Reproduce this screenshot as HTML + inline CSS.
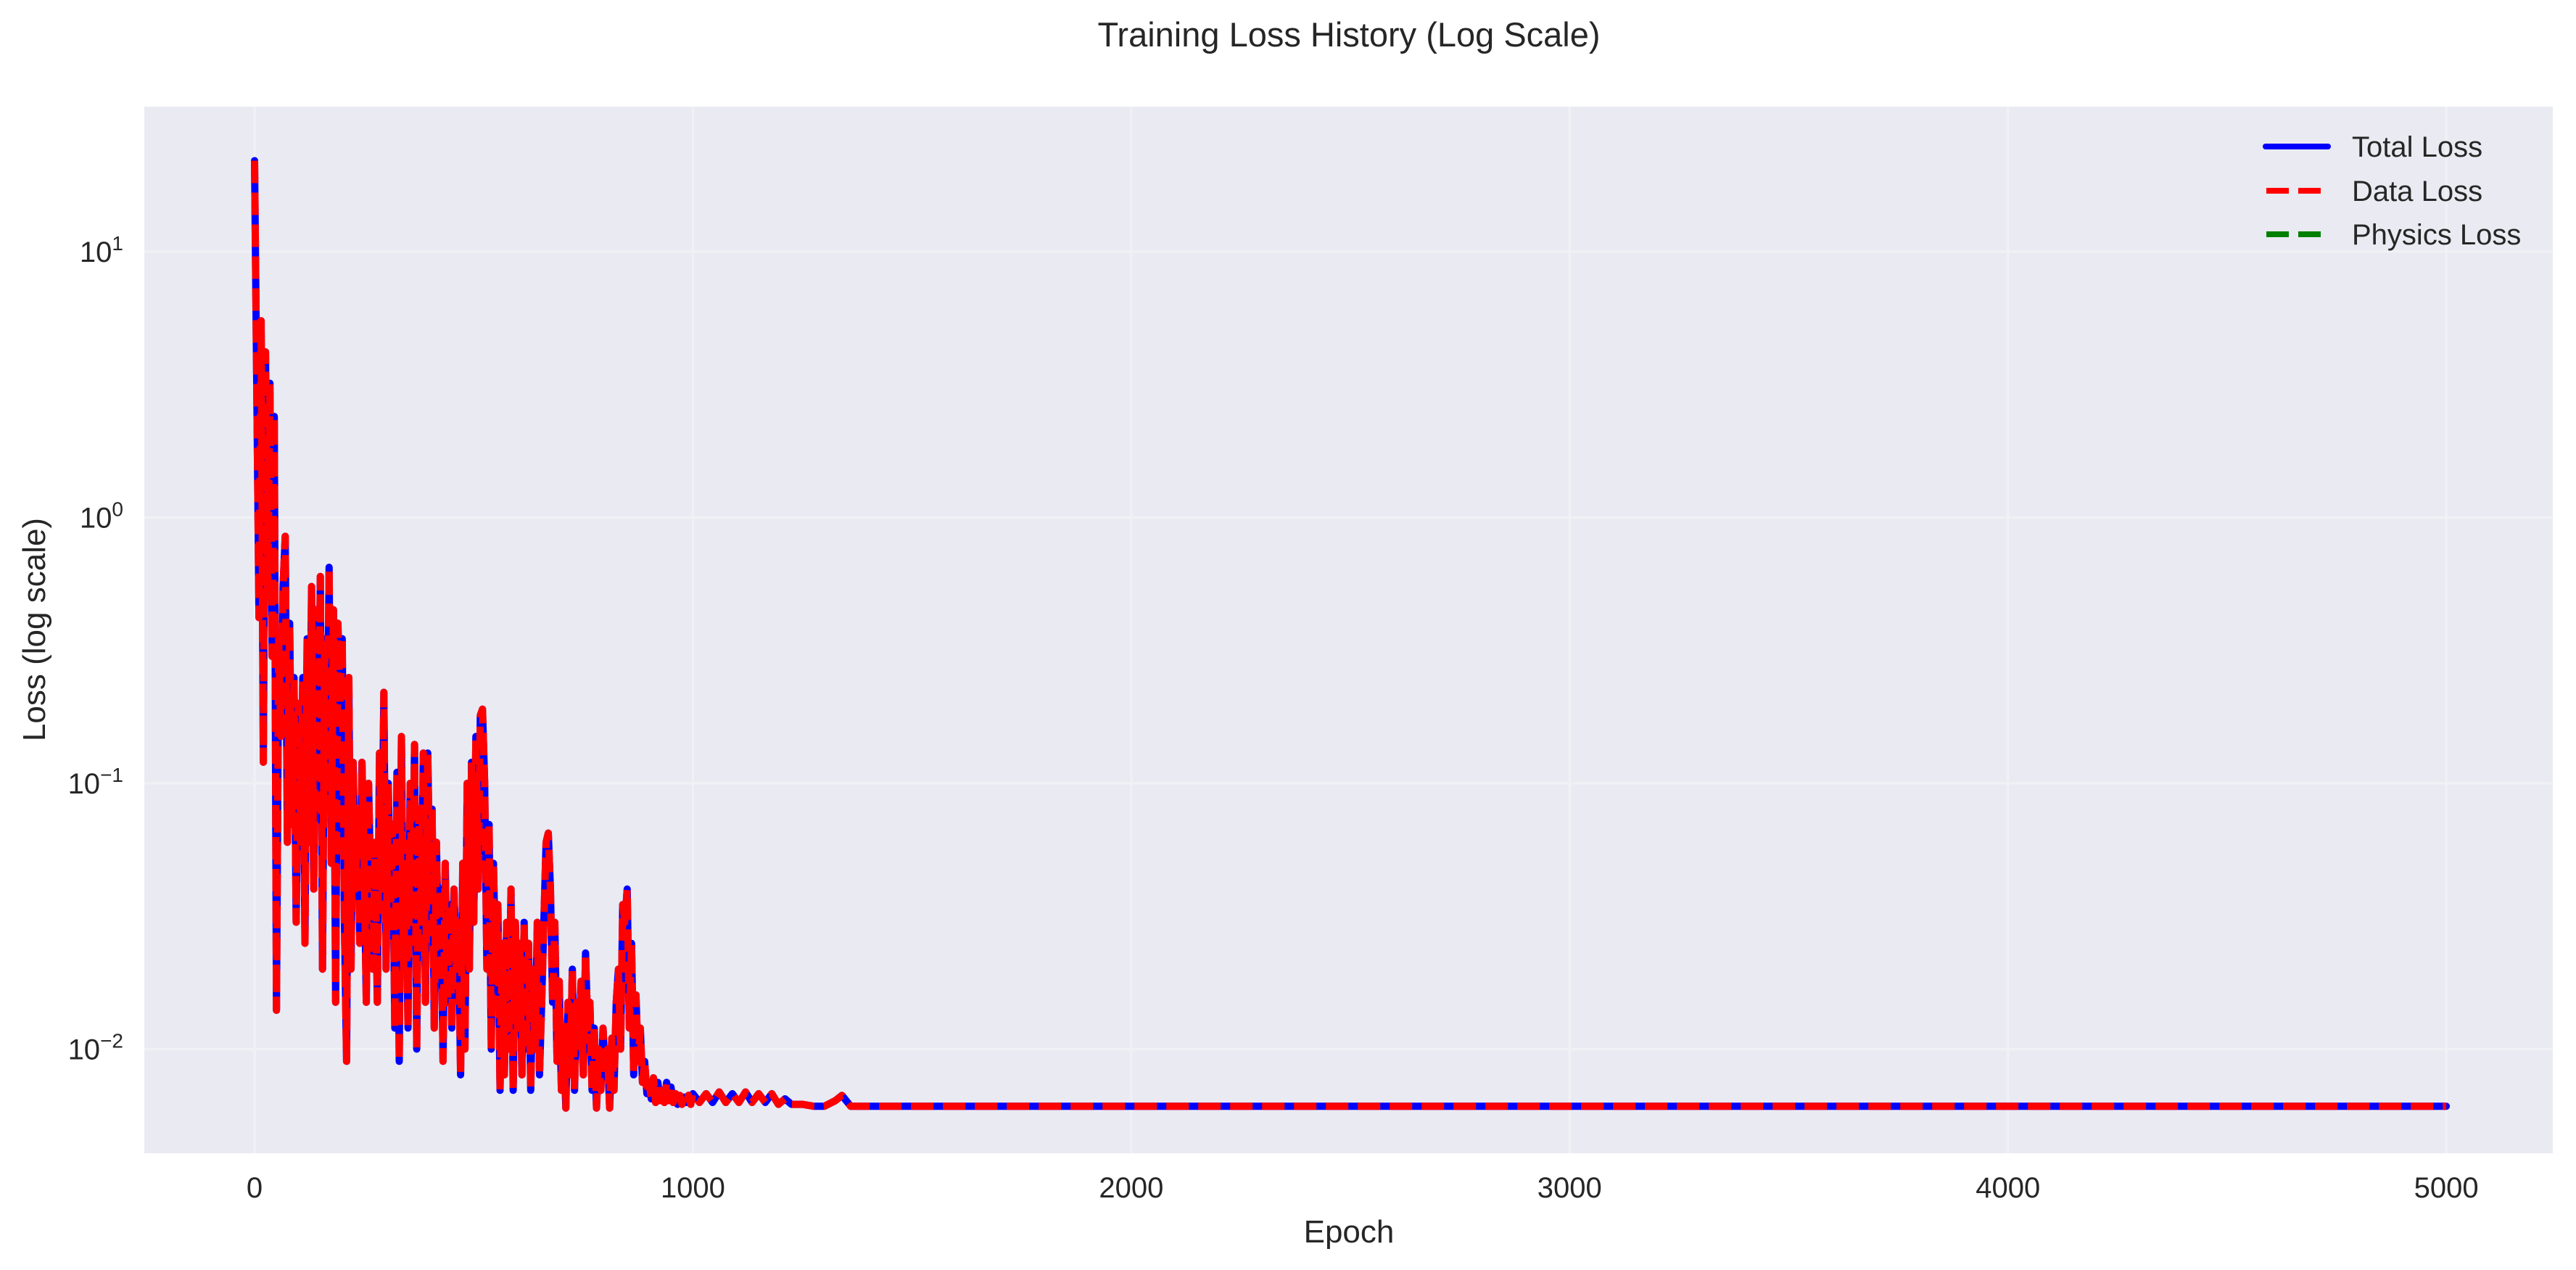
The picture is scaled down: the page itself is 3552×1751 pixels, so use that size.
<!DOCTYPE html>
<html><head><meta charset="utf-8">
<style>
html,body{margin:0;padding:0;background:#fff;}
svg{display:block;font-family:"Liberation Sans",sans-serif;}
</style></head>
<body>
<svg id="chart" width="3552" height="1751" viewBox="0 0 3552 1751" xmlns="http://www.w3.org/2000/svg">
  <rect x="199" y="147" width="3321" height="1443" fill="#EAEAF2"/>
  <g id="grid"></g>
  <g id="series" clip-path="url(#clip)"></g>
  <defs><clipPath id="clip"><rect x="199" y="147" width="3321" height="1443"/></clipPath></defs>
  <g id="ticks" fill="#262626" font-size="40"></g>
  <text x="1860" y="64" text-anchor="middle" font-size="47" fill="#262626">Training Loss History (Log Scale)</text>
  <text x="1860" y="1713" text-anchor="middle" font-size="44" fill="#262626">Epoch</text>
  <text transform="translate(62,868) rotate(-90)" text-anchor="middle" font-size="44" fill="#262626">Loss (log scale)</text>
  <g font-size="40" fill="#262626">
    <line x1="3124" y1="202" x2="3210" y2="202" stroke="#0000FF" stroke-width="8" stroke-linecap="round"/>
    <text x="3243" y="216">Total Loss</text>
    <line x1="3125" y1="263" x2="3200" y2="263" stroke="#FF0000" stroke-width="8" stroke-dasharray="31 13"/>
    <text x="3243" y="277">Data Loss</text>
    <line x1="3125" y1="323" x2="3200" y2="323" stroke="#008000" stroke-width="8" stroke-dasharray="31 13"/>
    <text x="3243" y="337">Physics Loss</text>
  </g>
</svg>
<script>
const earlyStep = 5;
const earlyLoss = [
22,3.2,0.42,5.5,0.12,4.2,0.5,3.2,0.3,2.4,
0.014,0.35,0.15,0.55,0.85,0.06,0.4,0.07,0.25,0.03,
0.2,0.06,0.25,0.025,0.35,0.06,0.55,0.04,0.45,0.1,
0.6,0.02,0.35,0.08,0.65,0.05,0.45,0.015,0.4,0.2,
0.35,0.03,0.009,0.25,0.02,0.12,0.04,0.08,0.025,0.12,
0.05,0.015,0.1,0.04,0.02,0.06,0.015,0.13,0.04,0.22,
0.02,0.1,0.03,0.07,0.012,0.11,0.009,0.15,0.02,0.05,
0.012,0.1,0.03,0.14,0.01,0.08,0.03,0.13,0.015,0.13,
0.04,0.08,0.012,0.06,0.02,0.04,0.009,0.05,0.015,0.035,
0.012,0.04,0.02,0.03,0.008,0.05,0.01,0.1,0.02,0.12,
0.03,0.15,0.04,0.18,0.19,0.1,0.02,0.07,0.01,0.05,
0.02,0.035,0.007,0.025,0.008,0.03,0.01,0.04,0.007,0.03,
0.012,0.025,0.008,0.03,0.01,0.025,0.007,0.02,0.01,0.03,
0.008,0.015,0.03,0.06,0.065,0.04,0.015,0.03,0.009,0.018,
0.007,0.012,0.006,0.015,0.008,0.02,0.007,0.015,0.01,0.018,
0.008,0.023,0.012,0.015,0.007,0.012,0.006,0.01,0.007,0.012,
0.008,0.01,0.006,0.011,0.007,0.015,0.02,0.01,0.035,0.03,
0.04,0.012,0.025,0.008,0.016,0.009,0.012,0.0075,0.009,0.0068,
0.0075,0.0065,0.0078,0.0063,0.0075,0.0064,0.007,0.0063,0.0075,0.0064,
0.0072,0.0063,0.0068,0.0062,0.0067,0.0062,0.0066,0.0063,0.0067,0.0062
];
const lateEpochs = [1000,1015,1030,1045,1060,1075,1090,1105,1120,1135,1150,1165,1180,1195,1210,1225,1250,1275,1300,1325,1340,1360,5000];
const lateLoss = [0.0068,0.0063,0.0068,0.0063,0.0069,0.0063,0.0068,0.0063,0.0069,0.0063,0.0068,0.0063,0.0068,0.0062,0.0065,0.0062,0.0062,0.0061,0.0061,0.0064,0.0067,0.0061,0.0061];
const xTicks = [0,1000,2000,3000,4000,5000];
const yTickExps = [-2,-1,0,1];

const NS = 'http://www.w3.org/2000/svg';
const X0 = 199, X1 = 3520, Y0 = 147, Y1 = 1590;
const xMin = -251.5, xMax = 5243, lMin = -2.3916, lMax = 1.5457;
function xs(e){ return X0 + (e - xMin) / (xMax - xMin) * (X1 - X0); }
function ys(v){ return Y1 - (Math.log10(v) - lMin) / (lMax - lMin) * (Y1 - Y0); }

const grid = document.getElementById('grid');
const ticks = document.getElementById('ticks');
xTicks.forEach(t => {
  const l = document.createElementNS(NS,'line');
  
  
  l.setAttribute('x1', xs(t)); l.setAttribute('x2', xs(t));
  l.setAttribute('y1', Y0); l.setAttribute('y2', Y1);
  l.setAttribute('stroke', '#F1F1F5'); l.setAttribute('stroke-width', '3');
  grid.appendChild(l);
  const tx = document.createElementNS(NS,'text');
  
  
  tx.setAttribute('x', xs(t)); tx.setAttribute('y', 1651);
  tx.setAttribute('text-anchor', 'middle');
  tx.textContent = String(t);
  ticks.appendChild(tx);
});
yTickExps.forEach(p => {
  const y = ys(Math.pow(10, p));
  const l = document.createElementNS(NS,'line');
  
  
  l.setAttribute('x1', X0); l.setAttribute('x2', X1);
  l.setAttribute('y1', y); l.setAttribute('y2', y);
  l.setAttribute('stroke', '#F1F1F5'); l.setAttribute('stroke-width', '3');
  grid.appendChild(l);
  const tx = document.createElementNS(NS,'text');
  
  
  tx.setAttribute('x', 170); tx.setAttribute('y', y + 14);
  tx.setAttribute('text-anchor', 'end');
  const base = document.createElementNS(NS,'tspan');
  base.textContent = '10';
  const sup = document.createElementNS(NS,'tspan');
  sup.setAttribute('font-size', '28');
  sup.setAttribute('dy', '-16');
  sup.textContent = p < 0 ? '\u2212' + (-p) : String(p);
  tx.appendChild(base); tx.appendChild(sup);
  ticks.appendChild(tx);
});

const totalEpochs = [], totalLoss = [];
earlyLoss.forEach((v, i) => { totalEpochs.push(i * earlyStep); totalLoss.push(v); });
lateEpochs.forEach((e, i) => { totalEpochs.push(e); totalLoss.push(lateLoss[i]); });
const dataLoss = totalLoss.slice();

function pathFor(ep, vals){
  return vals.map((v, i) => (i ? 'L' : 'M') + xs(ep[i]).toFixed(1) + ' ' + ys(v).toFixed(1)).join(' ');
}
const series = document.getElementById('series');
const pTotal = document.createElementNS(NS,'path');


pTotal.setAttribute('d', pathFor(totalEpochs, totalLoss));
pTotal.setAttribute('fill', 'none'); pTotal.setAttribute('stroke', '#0000FF');
pTotal.setAttribute('stroke-width', '10'); pTotal.setAttribute('stroke-linejoin', 'round'); pTotal.setAttribute('stroke-linecap', 'round');
series.appendChild(pTotal);
const pData = document.createElementNS(NS,'path');


pData.setAttribute('d', pathFor(totalEpochs, dataLoss));
pData.setAttribute('fill', 'none'); pData.setAttribute('stroke', '#FF0000');
pData.setAttribute('stroke-width', '10'); pData.setAttribute('stroke-linejoin', 'round');
pData.setAttribute('stroke-dasharray', '31 13');
series.appendChild(pData);
</script>
</body></html>
